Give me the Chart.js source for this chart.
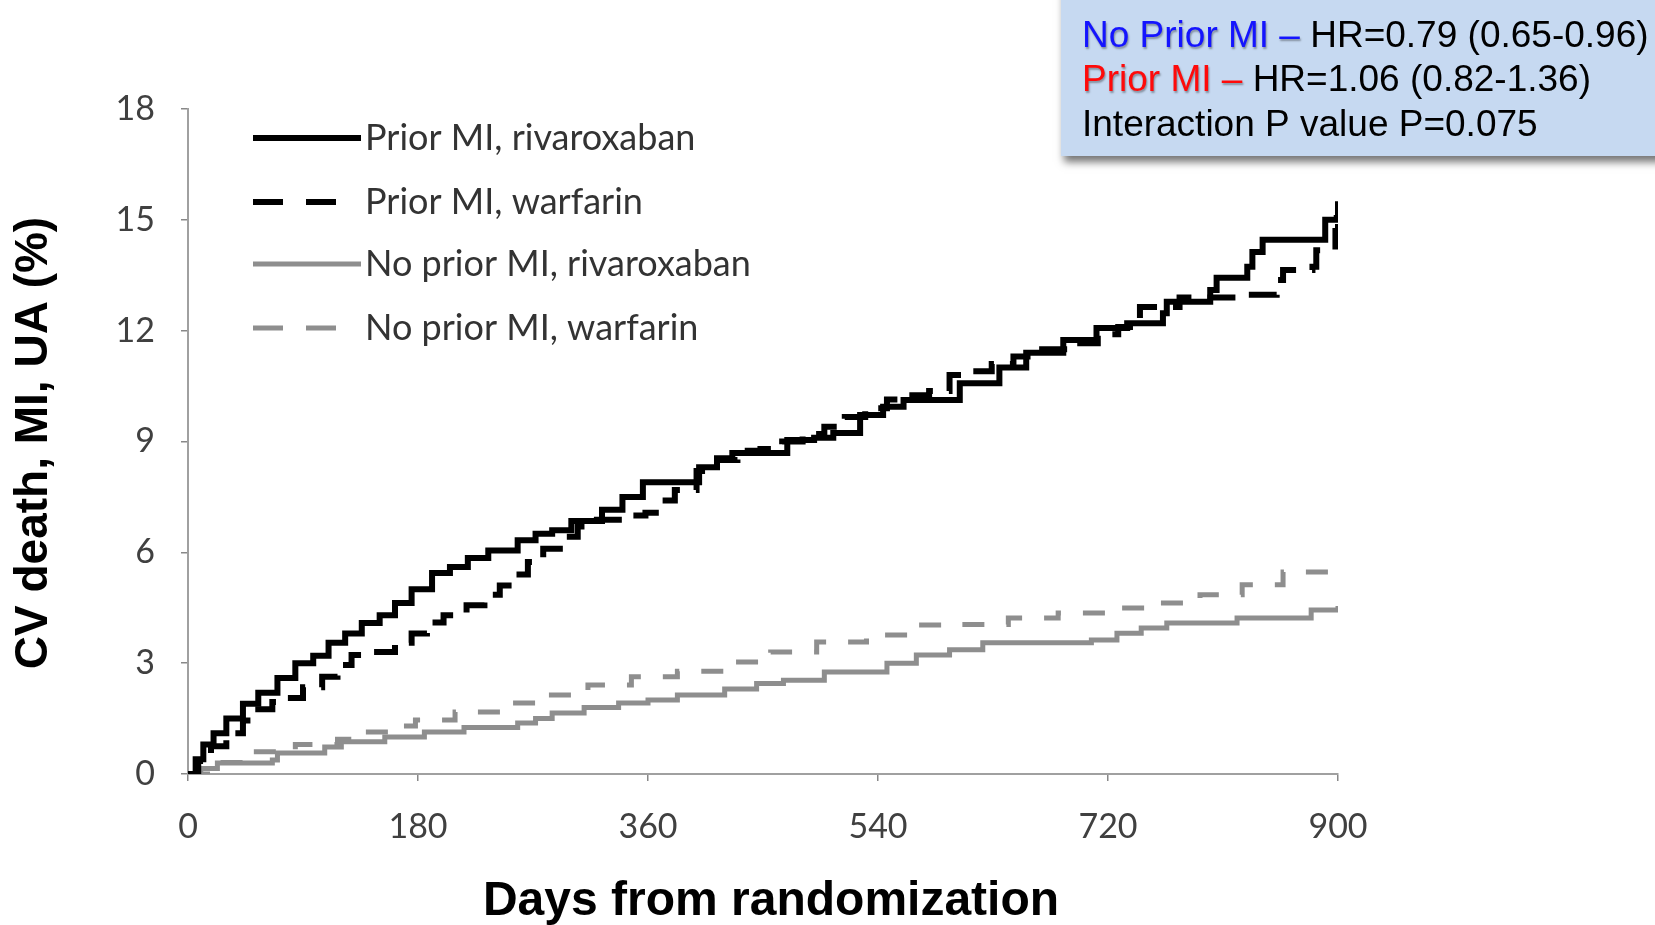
<!DOCTYPE html>
<html>
<head>
<meta charset="utf-8">
<script src="https://cdn.jsdelivr.net/npm/chart.js@4.4.1/dist/chart.umd.min.js"></script>
<style>
  body { margin: 0; background: #fff; }
  canvas { display: block; }
</style>
</head>
<body>
<canvas id="canvas" width="1655" height="925"></canvas>
<script>
// Kaplan-Meier style curves (days, %)
const seriesNames = ['Prior MI, rivaroxaban', 'Prior MI, warfarin', 'No prior MI, rivaroxaban', 'No prior MI, warfarin'];

const priorRivaDays = [0, 6, 12, 20, 30, 43, 55, 70, 84, 98, 110, 123, 136, 150, 162, 175, 191, 205, 219, 235, 258, 272, 285, 300, 324, 340, 356, 383, 400, 414, 426, 453, 469, 490, 505, 526, 544, 560, 594, 604, 622, 635, 656, 685, 711, 735, 763, 766, 800, 805, 829, 833, 841, 888, 890, 899, 900];
const priorRivaVals = [0, 0.4, 0.8, 1.1, 1.5, 1.9, 2.2, 2.6, 3.0, 3.2, 3.55, 3.8, 4.09, 4.3, 4.63, 5.0, 5.44, 5.6, 5.85, 6.05, 6.33, 6.5, 6.6, 6.85, 7.15, 7.5, 7.9, 7.9, 8.3, 8.55, 8.69, 8.69, 9.04, 9.1, 9.23, 9.72, 9.94, 10.12, 10.12, 10.58, 10.58, 11.0, 11.4, 11.75, 12.07, 12.2, 12.47, 12.78, 13.1, 13.43, 13.73, 14.13, 14.46, 14.46, 15.0, 15.05, 15.5];

const priorWarfDays = [0, 8, 18, 30, 43, 55, 66, 76, 90, 105, 117, 128, 145, 162, 175, 187, 200, 218, 232, 244, 255, 266, 278, 291, 305, 320, 340, 358, 370, 381, 398, 414, 430, 448, 465, 481, 498, 514, 530, 547, 563, 580, 596, 613, 629, 646, 662, 695, 712, 728, 745, 776, 823, 852, 857, 880, 883, 898, 900];
const priorWarfVals = [0, 0.35, 0.75, 1.1, 1.45, 1.75, 1.95, 2.06, 2.35, 2.63, 2.95, 3.22, 3.3, 3.55, 3.8, 4.1, 4.3, 4.57, 4.85, 5.1, 5.4, 5.74, 6.1, 6.42, 6.7, 6.88, 7.0, 7.07, 7.4, 7.69, 8.2, 8.5, 8.75, 8.8, 9.0, 9.2, 9.4, 9.66, 9.9, 10.14, 10.25, 10.37, 10.8, 10.9, 11.1, 11.3, 11.5, 11.66, 11.9, 12.1, 12.64, 12.9, 12.97, 13.37, 13.64, 13.73, 14.18, 14.7, 15.0];

const noPriorRivaDays = [0, 10, 23, 66, 70, 107, 120, 154, 185, 216, 258, 272, 285, 310, 337, 360, 383, 420, 445, 466, 498, 547, 570, 596, 622, 707, 727, 746, 766, 821, 879, 900];
const noPriorRivaVals = [0, 0.15, 0.3, 0.38, 0.57, 0.73, 0.87, 1.0, 1.14, 1.26, 1.38, 1.5, 1.65, 1.8, 1.92, 2.0, 2.14, 2.3, 2.45, 2.54, 2.76, 3.0, 3.22, 3.36, 3.55, 3.63, 3.81, 3.95, 4.09, 4.22, 4.44, 4.55];

const noPriorWarfDays = [0, 18, 51, 84, 117, 138, 160, 178, 209, 246, 282, 313, 347, 383, 423, 456, 492, 531, 567, 602, 642, 681, 720, 759, 792, 825, 857, 893, 900];
const noPriorWarfVals = [0, 0.31, 0.6, 0.8, 0.94, 1.14, 1.3, 1.46, 1.68, 1.92, 2.14, 2.41, 2.63, 2.78, 3.03, 3.3, 3.57, 3.76, 4.03, 4.05, 4.22, 4.36, 4.49, 4.63, 4.85, 5.12, 5.47, 5.58, 5.66];

const xTicks = [0, 180, 360, 540, 720, 900];
const yTicks = [0, 3, 6, 9, 12, 15, 18];

const boxLines = [
    ['No Prior MI \u2013', ' HR=0.79 (0.65-0.96)', '#1414ff'],
    ['Prior MI \u2013', ' HR=1.06 (0.82-1.36)', '#ff0a0a'],
    ['', 'Interaction P value P=0.075', '#000']
];

function pts(days, vals) {
    return days.map((d, i) => ({ x: d, y: vals[i] }));
}

const lineStyles = [
    { color: '#000', width: 6, dash: [] },
    { color: '#000', width: 6, dash: [28, 16] },
    { color: '#8e8e8e', width: 5, dash: [] },
    { color: '#8e8e8e', width: 5, dash: [22, 22] }
];

const overlay = {
    id: 'overlay',
    afterDraw(chart) {
        const ctx = chart.ctx;

        // legend inside the plot
        const legY = [138, 202, 264, 328];
        seriesNames.forEach((name, i) => {
            const st = lineStyles[i];
            ctx.save();
            ctx.strokeStyle = st.color;
            ctx.lineWidth = st.width;
            ctx.beginPath();
            if (st.dash.length) {
                ctx.moveTo(253, legY[i]); ctx.lineTo(283, legY[i]);
                ctx.moveTo(306, legY[i]); ctx.lineTo(336, legY[i]);
            } else {
                ctx.moveTo(253, legY[i]); ctx.lineTo(361, legY[i]);
            }
            ctx.stroke();
            ctx.fillStyle = '#333';
            ctx.font = '36px Lato, "Open Sans", sans-serif';
            ctx.textBaseline = 'middle';
            ctx.fillText(name, 365, legY[i]);
            ctx.restore();
        });

        // axis titles
        ctx.save();
        ctx.fillStyle = '#000';
        ctx.font = 'bold 46px "Liberation Sans", Arial, sans-serif';
        ctx.textAlign = 'center';
        ctx.textBaseline = 'middle';
        ctx.translate(34, 443);
        ctx.rotate(-Math.PI / 2);
        ctx.fillText('CV death, MI, UA (%)', 0, 0);
        ctx.restore();

        ctx.save();
        ctx.fillStyle = '#000';
        ctx.font = 'bold 48px "Liberation Sans", Arial, sans-serif';
        ctx.textAlign = 'center';
        ctx.textBaseline = 'middle';
        ctx.fillText('Days from randomization', 771, 902);
        ctx.restore();

        // hazard ratio box, top right
        ctx.save();
        ctx.shadowColor = 'rgba(0,0,0,0.55)';
        ctx.shadowBlur = 8;
        ctx.shadowOffsetX = 3;
        ctx.shadowOffsetY = 6;
        ctx.fillStyle = '#c6d9f1';
        ctx.fillRect(1061, -20, 620, 176);
        ctx.restore();

        ctx.save();
        ctx.font = '37px "Liberation Sans", Arial, sans-serif';
        ctx.textBaseline = 'middle';
        const rowY = [37, 81, 126];
        boxLines.forEach((row, i) => {
            let x = 1082;
            if (row[0]) {
                ctx.save();
                ctx.shadowColor = 'rgba(0,0,0,0.35)';
                ctx.shadowBlur = 2;
                ctx.shadowOffsetX = 1;
                ctx.shadowOffsetY = 2;
                ctx.fillStyle = row[2];
                ctx.fillText(row[0], x, rowY[i]);
                ctx.restore();
                x += ctx.measureText(row[0]).width;
            }
            ctx.fillStyle = '#000';
            ctx.fillText(row[1], x, rowY[i]);
        });
        ctx.restore();
    }
};

const ctx = document.getElementById('canvas').getContext('2d');
const myChart = new Chart(ctx, {
    type: 'line',
    data: {
        datasets: [
            { label: seriesNames[0], data: pts(priorRivaDays, priorRivaVals) },
            { label: seriesNames[1], data: pts(priorWarfDays, priorWarfVals) },
            { label: seriesNames[2], data: pts(noPriorRivaDays, noPriorRivaVals) },
            { label: seriesNames[3], data: pts(noPriorWarfDays, noPriorWarfVals) }
        ].map((ds, i) => Object.assign(ds, {
            borderColor: lineStyles[i].color,
            borderWidth: lineStyles[i].width,
            borderDash: lineStyles[i].dash,
            stepped: true,
            pointRadius: 0,
            fill: false
        }))
    },
    options: {
        responsive: false,
        animation: false,
        layout: { padding: { top: 109, right: 317, bottom: 0, left: 0 } },
        plugins: {
            legend: { display: false },
            tooltip: { enabled: false }
        },
        scales: {
            x: {
                type: 'linear',
                min: 0,
                max: 900,
                afterFit: (s) => { s.height = 151; },
                afterBuildTicks: (s) => { s.ticks = xTicks.map(v => ({ value: v })); },
                ticks: {
                    padding: 26,
                    color: '#404040',
                    font: { family: 'Lato', size: 34 }
                },
                grid: { drawOnChartArea: false, tickLength: 7, color: '#888', lineWidth: 1.5 },
                border: { color: '#a0a0a0', width: 2, dash: [2, 2] }
            },
            y: {
                min: 0,
                max: 18,
                afterFit: (s) => { s.width = 188; },
                afterBuildTicks: (s) => { s.ticks = yTicks.map(v => ({ value: v })); },
                ticks: {
                    padding: 26,
                    color: '#404040',
                    font: { family: 'Lato', size: 34 }
                },
                grid: { drawOnChartArea: false, tickLength: 7, color: '#888', lineWidth: 1.5 },
                border: { color: '#a0a0a0', width: 2, dash: [2, 2] }
            }
        }
    },
    plugins: [overlay]
});
</script>
</body>
</html>
